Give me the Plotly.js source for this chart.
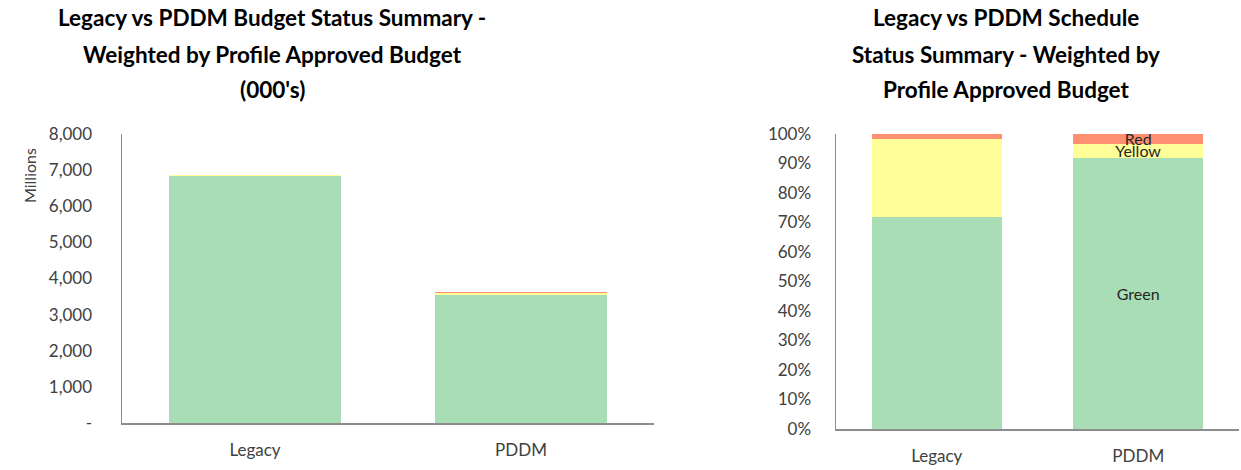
<!DOCTYPE html>
<html>
<head>
<meta charset="utf-8">
<script src="https://cdn.plot.ly/plotly-3.0.1.min.js"></script>
<style>html,body{margin:0;padding:0;background:#fff;}#chart{width:1241px;height:470px;}</style>
</head>
<body>
<div id="chart"></div>
<script>
// ---- data ----
const categories = ["Legacy", "PDDM"];
// Budget chart (millions)
const budgetGreen = [6830, 3545];
const budgetYellow = [25, 45];
const budgetRed = [0, 40];
const budgetTickVals = [0, 1000, 2000, 3000, 4000, 5000, 6000, 7000, 8000];
const budgetTickText = ["-", "1,000", "2,000", "3,000", "4,000", "5,000", "6,000", "7,000", "8,000"];
// Schedule chart (percent)
const schedGreen = [72.0, 92.0];
const schedYellow = [26.3, 4.7];
const schedRed = [1.7, 3.3];
const schedLabelsGreen = ["", "Green"];
const schedLabelsYellow = ["", "Yellow"];
const schedLabelsRed = ["", "Red"];
const titleLeft = ["Legacy vs PDDM Budget Status Summary -", "Weighted by Profile Approved Budget", "(000's)"];
const titleRight = ["Legacy vs PDDM Schedule", "Status Summary - Weighted by", "Profile Approved Budget"];

// ---- style ----
const GREEN = "#A9DDB5", YELLOW = "#FFFF99", RED = "#FF8F73";
const FONT = "Lato, 'Open Sans', sans-serif";
const TICKC = "#404040";
const W = 1241, H = 470;

function bar(x, y, color, xa, ya, text) {
  const t = {type: "bar", x: x, y: y, xaxis: xa, yaxis: ya, width: 0.645,
    marker: {color: color, line: {width: 0}}, hoverinfo: "skip", showlegend: false};
  if (text) {
    t.text = text; t.textposition = "inside"; t.insidetextanchor = "middle";
    t.constraintext = "none"; t.textangle = 0;
    t.textfont = {family: FONT, size: 16, color: "#262626"};
  }
  return t;
}

const data = [
  bar(categories, budgetGreen, GREEN, "x", "y"),
  bar(categories, budgetYellow, YELLOW, "x", "y"),
  bar(categories, budgetRed, RED, "x", "y"),
  bar(categories, schedGreen, GREEN, "x2", "y2", schedLabelsGreen),
  bar(categories, schedYellow, YELLOW, "x2", "y2", schedLabelsYellow),
  bar(categories, schedRed, RED, "x2", "y2", schedLabelsRed)
];

const annotations = [];
const titleYs = [18, 54, 89];
titleLeft.forEach((s, i) => annotations.push({text: "<b>" + s + "</b>", xref: "paper", yref: "paper",
  x: 272 / W, y: 1 - titleYs[i] / H, xanchor: "center", yanchor: "middle", showarrow: false,
  font: {family: FONT, size: 22.5, color: "#000"}}));
titleRight.forEach((s, i) => annotations.push({text: "<b>" + s + "</b>", xref: "paper", yref: "paper",
  x: 1006 / W, y: 1 - titleYs[i] / H, xanchor: "center", yanchor: "middle", showarrow: false,
  font: {family: FONT, size: 22.5, color: "#000"}}));
annotations.push({text: "Millions", xref: "paper", yref: "paper", x: 29 / W, y: 1 - 176 / H,
  textangle: -90, showarrow: false, xanchor: "center", yanchor: "middle",
  font: {family: FONT, size: 16, color: TICKC}});

const axisCommon = {showgrid: false, zeroline: false, showline: true, linecolor: "#8C8C8C", linewidth: 1.5,
  ticks: "", tickfont: {family: FONT, size: 17, color: TICKC}, fixedrange: true};

const layout = {
  width: W, height: H, margin: {l: 0, r: 0, t: 0, b: 0},
  paper_bgcolor: "#fff", plot_bgcolor: "#fff",
  barmode: "stack", bargap: 0.355, showlegend: false,
  uniformtext: {mode: "show", minsize: 16},
  xaxis: Object.assign({}, axisCommon, {domain: [122 / W, 654 / W], anchor: "y", ticklabelstandoff: 11}),
  yaxis: Object.assign({}, axisCommon, {domain: [1 - 423 / H, 1 - 134 / H], anchor: "x", range: [0, 8000],
    tickvals: budgetTickVals, ticktext: budgetTickText, ticklabelstandoff: 25}),
  xaxis2: Object.assign({}, axisCommon, {domain: [836 / W, 1239 / W], anchor: "y2", ticklabelstandoff: 11}),
  yaxis2: Object.assign({}, axisCommon, {domain: [1 - 429 / H, 1 - 134 / H], anchor: "x2", range: [0, 100],
    dtick: 10, ticksuffix: "%", ticklabelstandoff: 20}),
  annotations: annotations,
  font: {family: FONT}
};

Plotly.newPlot("chart", data, layout, {displayModeBar: false, staticPlot: true});
</script>
</body>
</html>
